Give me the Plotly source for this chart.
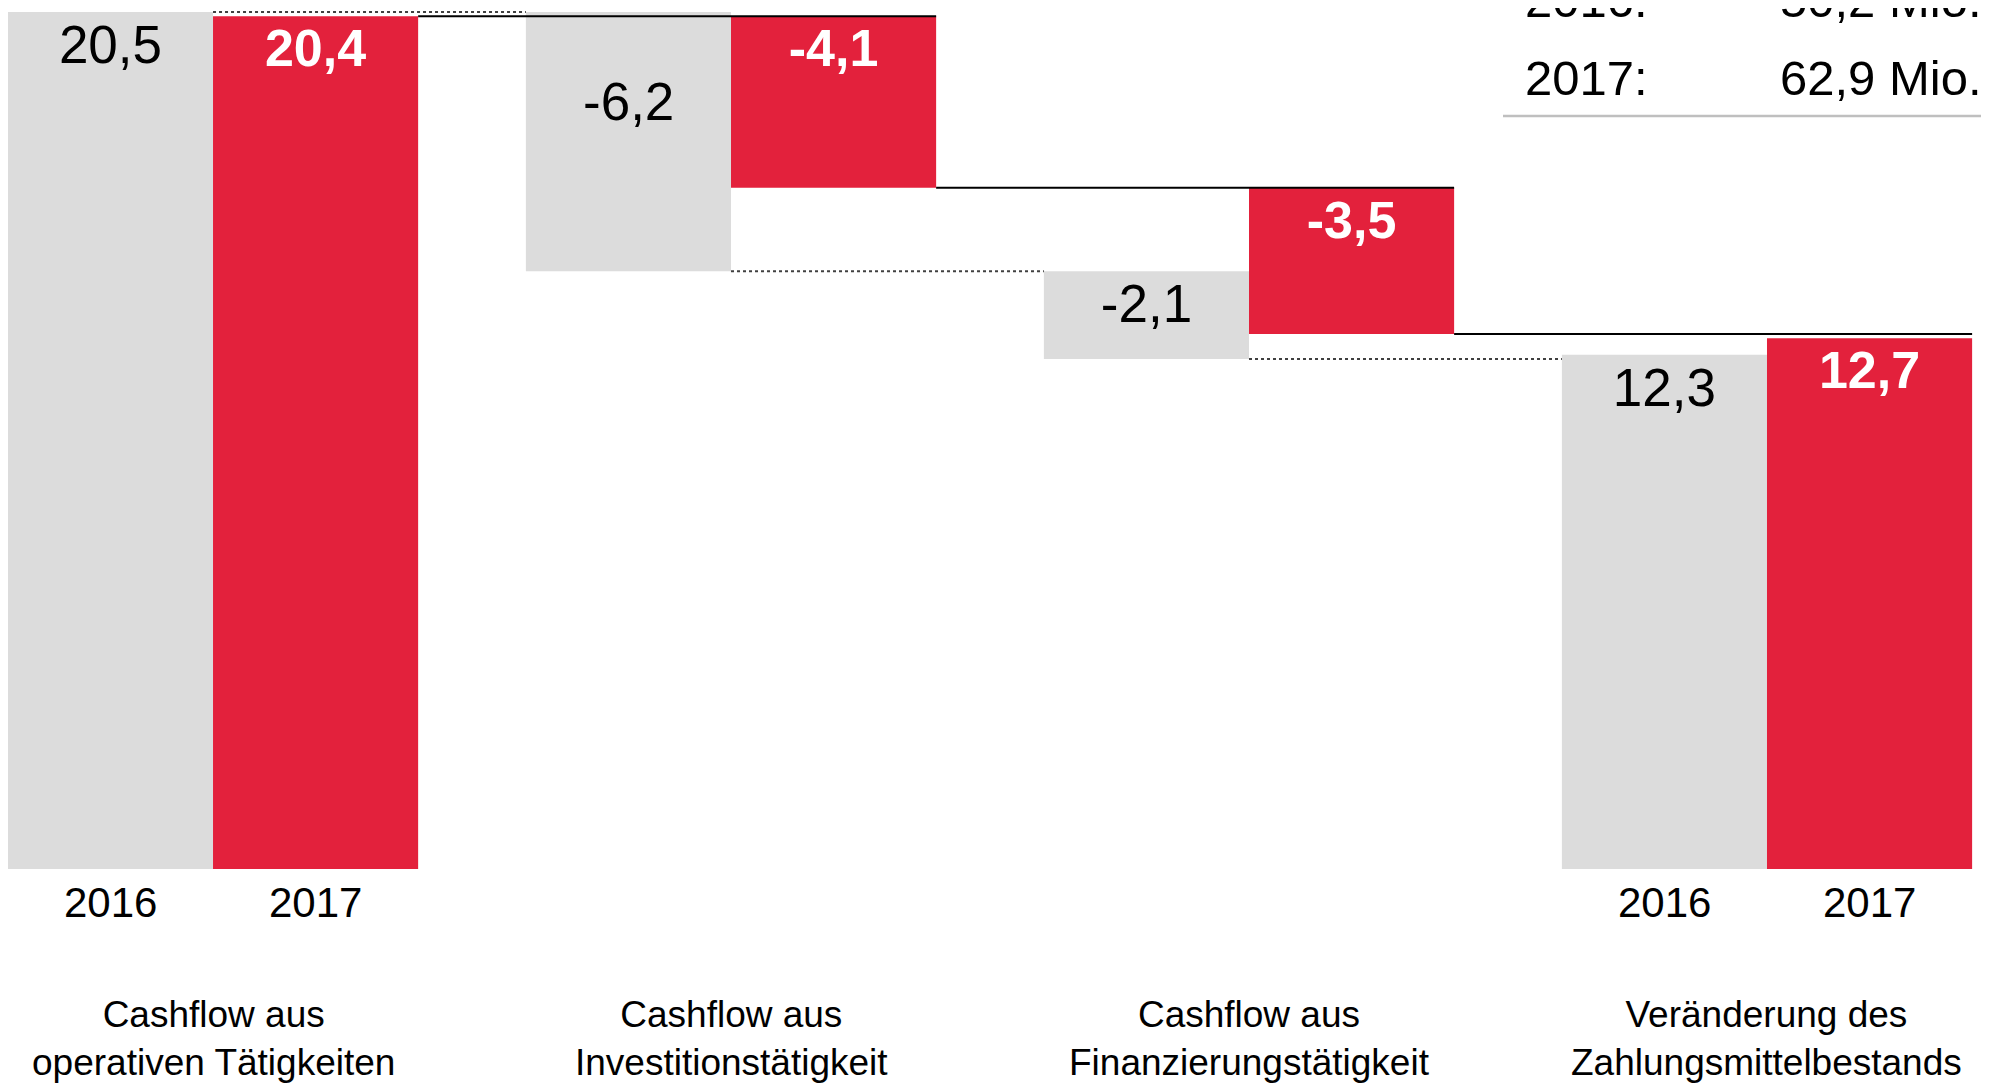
import plotly.graph_objects as go

# data
categories = ["Cashflow aus<br>operativen Tätigkeiten",
              "Cashflow aus<br>Investitionstätigkeit",
              "Cashflow aus<br>Finanzierungstätigkeit",
              "Veränderung des<br>Zahlungsmittelbestands"]
years = ["2016", "2017"]
values_2016 = [20.5, -6.2, -2.1, 12.3]
values_2017 = [20.4, -4.1, -3.5, 12.7]
year_label_groups = [0, 3]
cash_years = ["2016:", "2017:"]
cash_totals = ["50,2 Mio.", "62,9 Mio."]

GREY = "#DCDCDC"
RED = "#E3213C"
FONT = "Liberation Sans, Arial, sans-serif"
W = 0.396  # width of one bar, in category units

# the page body has an 8px margin, so the figure is 8px smaller
FIG_W, FIG_H, PAGE_PAD = 1981, 1075, 8


def px(x_page):
    return (x_page - PAGE_PAD) / FIG_W


def py(y_page):
    return 1 - (y_page - PAGE_PAD) / FIG_H


def floating(values):
    """base/height of each waterfall bar, plus the running level after it"""
    base, height, levels = [], [], []
    level = 0
    for i, v in enumerate(values):
        if i == len(values) - 1:  # last bar is the total
            base.append(0)
            height.append(v)
            level = v
        elif v >= 0:
            base.append(level)
            height.append(v)
            level += v
        else:
            base.append(level + v)
            height.append(-v)
            level += v
        levels.append(level)
    return base, height, levels


def fmt(v):
    return f"{v:.1f}".replace(".", ",")


x = list(range(len(categories)))
base16, h16, lv16 = floating(values_2016)
base17, h17, lv17 = floating(values_2017)

# the invest label of 2016 sits lower in its bar
low_label = 1
text16 = [fmt(v) if i != low_label else "" for i, v in enumerate(values_2016)]
text17 = [fmt(v) for v in values_2017]

fig = go.Figure()

# connector lines (drawn first, bars on top)
for k in range(len(categories) - 1):
    fig.add_trace(go.Scatter(
        x=[k, k + 1 - W], y=[lv16[k], lv16[k]], mode="lines",
        line=dict(color="#404040", width=2, dash="dot"),
        hoverinfo="skip"))
    fig.add_trace(go.Scatter(
        x=[k + W, k + 1 + W], y=[lv17[k], lv17[k]], mode="lines",
        line=dict(color="black", width=2),
        hoverinfo="skip"))

fig.add_trace(go.Bar(
    x=x, y=h16, base=base16, name=years[0],
    marker=dict(color=GREY, line=dict(width=0)),
    text=text16, textposition="inside", insidetextanchor="end",
    textangle=0,
    insidetextfont=dict(family=FONT, size=53, color="black"),
))
fig.add_trace(go.Bar(
    x=x, y=h17, base=base17, name=years[1],
    marker=dict(color=RED, line=dict(width=0)),
    text=text17, textposition="inside", insidetextanchor="end",
    textangle=0,
    insidetextfont=dict(family=FONT, size=52, color="white", weight="bold"),
))

annotations = []

annotations.append(dict(
    x=low_label - W / 2, y=base16[low_label] + h16[low_label],
    xref="x", yref="y", yanchor="top", yshift=-58,
    text=fmt(values_2016[low_label]), showarrow=False,
    font=dict(family=FONT, size=53, color="black")))

# year labels below the first and last group
for g in year_label_groups:
    for j, yr in enumerate(years):
        annotations.append(dict(
            x=g + (j - 0.5) * W, y=py(902),
            xref="x", yref="paper", yanchor="middle",
            text=yr, showarrow=False,
            font=dict(family=FONT, size=42, color="black")))

# category labels
for i, cat in enumerate(categories):
    annotations.append(dict(
        x=i, y=py(1038), xref="x", yref="paper", yanchor="middle",
        text=cat, showarrow=False,
        font=dict(family=FONT, size=37, color="black")))

# cash totals box, top right
for j, (yr, tot) in enumerate(zip(cash_years, cash_totals)):
    ypos = py(-0.5 + j * 78)
    annotations.append(dict(
        x=px(1523), y=ypos, xref="paper", yref="paper",
        xanchor="left", yanchor="middle", text=yr, showarrow=False,
        font=dict(family=FONT, size=49, color="black")))
    annotations.append(dict(
        x=px(1984), y=ypos, xref="paper", yref="paper",
        xanchor="right", yanchor="middle", text=tot, showarrow=False,
        font=dict(family=FONT, size=49, color="black")))

fig.update_layout(
    width=FIG_W, height=FIG_H,
    margin=dict(l=0, r=0, t=0, b=0),
    paper_bgcolor="white", plot_bgcolor="white",
    barmode="group", bargap=1 - 2 * W, bargroupgap=0,
    showlegend=False, hovermode=False,
    xaxis=dict(range=[-0.3958, 3.4286], visible=False),
    yaxis=dict(range=[-5.12, 20.598], visible=False),
    font=dict(family=FONT, color="black"),
    annotations=annotations,
    shapes=[dict(type="line", xref="paper", yref="paper",
                 x0=px(1503), x1=1, y0=py(116), y1=py(116),
                 line=dict(color="#BFBFBF", width=2.5))],
)

fig.write_html("out.html")
